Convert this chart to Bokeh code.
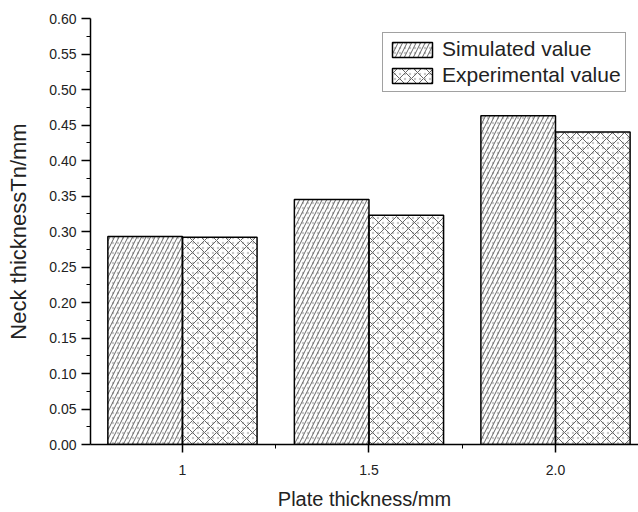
from bokeh.plotting import figure
from bokeh.models import ColumnDataSource, FixedTicker, Range1d, Legend, LegendItem, CustomJSTickFormatter
from bokeh.embed import file_html
from bokeh.resources import INLINE

# ---- data ----
categories = ["1", "1.5", "2.0"]
simulated = [0.293, 0.345, 0.463]
experimental = [0.292, 0.323, 0.440]
y_ticks = [0.00, 0.05, 0.10, 0.15, 0.20, 0.25, 0.30, 0.35, 0.40, 0.45, 0.50, 0.55, 0.60]

idx = list(range(1, len(categories) + 1))
bar_w = 0.4
src_sim = ColumnDataSource(dict(x=[i - bar_w / 2 for i in idx], top=simulated))
src_exp = ColumnDataSource(dict(x=[i + bar_w / 2 for i in idx], top=experimental))

FONT = "Liberation Sans"

p = figure(width=638, height=512, output_backend="svg", toolbar_location=None,
           x_range=Range1d(0.507, 3.445), y_range=Range1d(0, 0.6),
           min_border_left=90, min_border_right=0, min_border_top=18, min_border_bottom=67)
p.outline_line_color = None
p.grid.grid_line_color = None
p.background_fill_color = "white"
p.border_fill_color = "white"

# stipple layers
s_dot = p.vbar(x="x", top="top", width=bar_w, source=src_sim, fill_color="white",
               line_color=None, hatch_pattern="dot", hatch_color="#c8c8c8", hatch_scale=5, hatch_weight=1)
e_dot = p.vbar(x="x", top="top", width=bar_w, source=src_exp, fill_color="white",
               line_color=None, hatch_pattern="dot", hatch_color="#c8c8c8", hatch_scale=5, hatch_weight=1)
# line hatch layers
s_bar = p.vbar(x="x", top="top", width=bar_w, source=src_sim, fill_alpha=0,
               line_color="black", line_width=1.5,
               hatch_pattern="right_diagonal_line", hatch_color="#666666", hatch_scale=9, hatch_weight=1)
e_bar = p.vbar(x="x", top="top", width=bar_w, source=src_exp, fill_alpha=0,
               line_color="black", line_width=1.5,
               hatch_pattern="diagonal_cross", hatch_color="#666666", hatch_scale=12, hatch_weight=1)

# x axis
p.xaxis.ticker = FixedTicker(ticks=idx, minor_ticks=[1.5, 2.5])
p.xaxis.major_label_overrides = {i: c for i, c in zip(idx, categories)}
p.xaxis.axis_label = "Plate thickness/mm"
p.xaxis.major_tick_in = 0
p.xaxis.major_tick_out = 8
p.xaxis.minor_tick_in = 0
p.xaxis.minor_tick_out = 4
p.xaxis.major_label_standoff = 12
p.xaxis.axis_label_standoff = 10

# y axis
p.yaxis.ticker = FixedTicker(ticks=y_ticks, minor_ticks=[t + 0.025 for t in y_ticks[:-1]])
p.yaxis.formatter = CustomJSTickFormatter(code="return tick.toFixed(2);")
p.yaxis.axis_label = "Neck thicknessTn/mm"
p.yaxis.major_tick_in = 0
p.yaxis.major_tick_out = 9
p.yaxis.minor_tick_in = 0
p.yaxis.minor_tick_out = 4
p.yaxis.major_label_standoff = 5
p.yaxis.axis_label_standoff = 15

for ax in (p.xaxis, p.yaxis):
    ax.axis_line_color = "black"
    ax.axis_line_width = 1.5
    ax.major_tick_line_color = "black"
    ax.major_tick_line_width = 1.5
    ax.minor_tick_line_color = "black"
    ax.minor_tick_line_width = 1
    ax.major_label_text_font = FONT
    ax.major_label_text_font_size = "14px"
    ax.major_label_text_color = "#222222"
    ax.axis_label_text_font = FONT
    ax.axis_label_text_font_style = "normal"
    ax.axis_label_text_color = "#222222"
p.xaxis.axis_label_text_font_size = "20px"
p.yaxis.axis_label_text_font_size = "22px"

legend = Legend(items=[LegendItem(label="Simulated value", renderers=[s_dot, s_bar]),
                       LegendItem(label="Experimental value", renderers=[e_dot, e_bar])],
                location=(292, 352))
legend.label_text_font = FONT
legend.label_text_font_size = "21px"
legend.label_text_color = "#222222"
legend.glyph_width = 50
legend.glyph_height = 19
legend.label_standoff = 5
legend.label_height = 19
legend.spacing = 2
legend.padding = 4
legend.margin = 0
legend.border_line_color = "#444444"
legend.border_line_width = 1.5
legend.background_fill_alpha = 1
p.add_layout(legend, "center")

open("out.html", "w").write(file_html(p, INLINE))
